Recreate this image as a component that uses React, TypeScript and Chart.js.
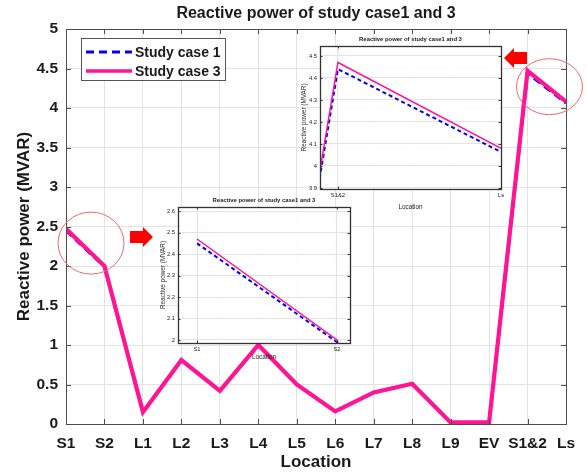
import React, { useEffect, useRef } from 'react';
import { Chart, registerables } from 'chart.js';

Chart.register(...registerables);

// ---------- data ----------
const locations = ['S1', 'S2', 'L1', 'L2', 'L3', 'L4', 'L5', 'L6', 'L7', 'L8', 'L9', 'EV', 'S1&2', 'Ls'];
const studyCase1 = [2.45, 1.99, 0.15, 0.81, 0.42, 1.0, 0.5, 0.16, 0.4, 0.51, 0.02, 0.02, 4.44, 4.063];
const studyCase3 = [2.47, 2.0, 0.15, 0.81, 0.42, 1.0, 0.5, 0.16, 0.4, 0.51, 0.02, 0.02, 4.47, 4.08];
const mainXTicks = [0, 1, 2, 3, 4, 5, 6, 7, 8, 9, 10, 11, 12, 13];
const mainYTicks = [0, 0.5, 1, 1.5, 2, 2.5, 3, 3.5, 4, 4.5, 5];
const inset1XTicks = [0, 1];
const inset1YTicks = [2, 2.1, 2.2, 2.3, 2.4, 2.5, 2.6];
const inset2XTicks = [12, 13];
const inset2YTicks = [3.9, 4, 4.1, 4.2, 4.3, 4.4, 4.5];
const chartTitle = 'Reactive power of study case1 and 3';
const xTitle = 'Location';
const yTitle = 'Reactive power (MVAR)';
const legendLabels = ['Study case 1', 'Study case 3'];

// ---------- styles ----------
const FAMILY = '"Liberation Sans", Arial, Helvetica, sans-serif';
const PINK = '#ff1493';
const BLUE = '#0000ff';
const GRID = '#e3e3e3';
const AXIS = '#4d4d4d';
const TEXT = '#1a1a1a';

type Spec = {
  left: number; top: number; width: number; height: number;
  padTop: number; padRight: number; yWidth: number; xHeight: number;
  xMin: number; xMax: number; yMin: number; yMax: number;
  xTicks: number[]; yTicks: number[];
  tickSize: number; tickWeight: string; xTickPad: number; yTickPad: number;
  axisTitleSize: number; axisTitleWeight: string; xTitlePad: number; yTitlePad: number;
  titleSize: number; titleWeight: string; titleY: number;
  w1: number; w3: number; dash: number[]; tickLen: number; areaFill: string;
  boxColor: string; boxWidth: number;
  main: boolean;
};

const mainSpec: Spec = {
  left: 0, top: 0, width: 587, height: 476,
  padTop: 29, padRight: 21, yWidth: 66, xHeight: 52,
  xMin: 0, xMax: 13, yMin: 0, yMax: 5,
  xTicks: mainXTicks, yTicks: mainYTicks,
  tickSize: 15.5, tickWeight: 'bold', xTickPad: 10, yTickPad: 8,
  axisTitleSize: 17, axisTitleWeight: 'bold', xTitlePad: 3, yTitlePad: 14,
  titleSize: 16, titleWeight: 'bold', titleY: 14,
  w1: 3, w3: 4.2, dash: [8, 5], tickLen: 5, areaFill: '#ffffff',
  boxColor: AXIS, boxWidth: 1,
  main: true,
};

const inset1Spec: Spec = {
  left: 150, top: 193, width: 210, height: 172,
  padTop: 14, padRight: 10, yWidth: 28, xHeight: 22,
  xMin: -0.136, xMax: 1.093, yMin: 1.986, yMax: 2.619,
  xTicks: inset1XTicks, yTicks: inset1YTicks,
  tickSize: 5.8, tickWeight: 'normal', xTickPad: 2.5, yTickPad: 3,
  axisTitleSize: 6.4, axisTitleWeight: 'normal', xTitlePad: 4, yTitlePad: 9,
  titleSize: 5.9, titleWeight: 'bold', titleY: 7,
  w1: 2, w3: 1.5, dash: [4, 3], tickLen: 2.5, areaFill: 'rgba(255,255,255,0.88)',
  boxColor: '#333333', boxWidth: 1.3,
  main: false,
};

const inset2Spec: Spec = {
  left: 295, top: 30, width: 215, height: 185,
  padTop: 16, padRight: 9, yWidth: 25, xHeight: 26,
  xMin: 11.89, xMax: 13, yMin: 3.895, yMax: 4.545,
  xTicks: inset2XTicks, yTicks: inset2YTicks,
  tickSize: 5.8, tickWeight: 'normal', xTickPad: 2.5, yTickPad: 3,
  axisTitleSize: 6.4, axisTitleWeight: 'normal', xTitlePad: 4, yTitlePad: 5,
  titleSize: 5.9, titleWeight: 'bold', titleY: 9,
  w1: 2, w3: 1.5, dash: [4, 3], tickLen: 2.5, areaFill: 'rgba(255,255,255,0.88)',
  boxColor: '#333333', boxWidth: 1.3,
  main: false,
};

const fmt = (v: number) => (Number.isInteger(v) ? String(v) : v.toFixed(1));

function makeFramePlugin(s: Spec) {
  return {
    id: 'frame',
    beforeDraw(chart: any) {
      const { ctx, chartArea: a } = chart;
      ctx.save();
      if (s.main) {
        ctx.fillStyle = '#ffffff';
        ctx.fillRect(0, 0, chart.width, chart.height);
      }
      ctx.fillStyle = s.areaFill;
      ctx.fillRect(a.left, a.top, a.right - a.left, a.bottom - a.top);
      ctx.restore();
    },
    afterDatasetsDraw(chart: any) {
      const { ctx, chartArea: a, scales } = chart;
      ctx.save();
      ctx.strokeStyle = s.boxColor;
      ctx.lineWidth = 1;
      ctx.beginPath();
      for (const v of s.xTicks) {
        const px = Math.round(scales.x.getPixelForValue(v)) + 0.5;
        ctx.moveTo(px, a.bottom); ctx.lineTo(px, a.bottom - s.tickLen);
        ctx.moveTo(px, a.top); ctx.lineTo(px, a.top + s.tickLen);
      }
      for (const v of s.yTicks) {
        const py = Math.round(scales.y.getPixelForValue(v)) + 0.5;
        ctx.moveTo(a.left, py); ctx.lineTo(a.left + s.tickLen, py);
        ctx.moveTo(a.right, py); ctx.lineTo(a.right - s.tickLen, py);
      }
      ctx.stroke();
      ctx.lineWidth = s.boxWidth;
      ctx.strokeRect(Math.round(a.left) + 0.5, Math.round(a.top) + 0.5,
        Math.round(a.right - a.left), Math.round(a.bottom - a.top));
      ctx.restore();
    },
    afterDraw(chart: any) {
      const { ctx, chartArea: a, scales } = chart;
      ctx.save();
      // chart title
      ctx.fillStyle = TEXT;
      ctx.font = `${s.titleWeight} ${s.titleSize}px ${FAMILY}`;
      ctx.textAlign = 'center';
      ctx.textBaseline = 'middle';
      ctx.fillText(chartTitle, (a.left + a.right) / 2, s.titleY);

      if (s.main) {
        // legend
        const bx = a.left + 15, by = a.top + 9, bw = 144, bh = 42;
        ctx.fillStyle = '#ffffff';
        ctx.fillRect(bx, by, bw, bh);
        ctx.strokeStyle = '#555555';
        ctx.lineWidth = 1;
        ctx.strokeRect(bx + 0.5, by + 0.5, bw, bh);
        const rows = [
          { label: legendLabels[0], color: BLUE, dash: [8, 5], w: 3 },
          { label: legendLabels[1], color: PINK, dash: [], w: 3.5 },
        ];
        rows.forEach((r, i) => {
          const ly = by + 14 + i * 19;
          ctx.beginPath();
          ctx.setLineDash(r.dash);
          ctx.strokeStyle = r.color;
          ctx.lineWidth = r.w;
          ctx.moveTo(bx + 5, ly);
          ctx.lineTo(bx + 51, ly);
          ctx.stroke();
          ctx.setLineDash([]);
          ctx.fillStyle = TEXT;
          ctx.font = `bold 14px ${FAMILY}`;
          ctx.textAlign = 'left';
          ctx.textBaseline = 'middle';
          ctx.fillText(r.label, bx + 54, ly + 1);
        });

        // zoom circles
        ctx.strokeStyle = '#f06a6a';
        ctx.lineWidth = 1;
        const circles = [
          { xv: 0.65, yv: 2.29, rx: 33, ry: 31 },
          { xv: 12.57, yv: 4.27, rx: 33, ry: 28 },
        ];
        circles.forEach((c) => {
          ctx.beginPath();
          ctx.ellipse(scales.x.getPixelForValue(c.xv), scales.y.getPixelForValue(c.yv), c.rx, c.ry, 0, 0, Math.PI * 2);
          ctx.stroke();
        });

        // arrows
        ctx.fillStyle = '#ff0000';
        const arrow = (x0: number, x1: number, cy: number, dir: number) => {
          const len = Math.abs(x1 - x0);
          const head = 10;
          const sx = dir > 0 ? x0 : x1;
          ctx.beginPath();
          if (dir > 0) {
            ctx.moveTo(sx, cy - 6); ctx.lineTo(sx + len - head, cy - 6); ctx.lineTo(sx + len - head, cy - 10);
            ctx.lineTo(sx + len, cy); ctx.lineTo(sx + len - head, cy + 10); ctx.lineTo(sx + len - head, cy + 6);
            ctx.lineTo(sx, cy + 6);
          } else {
            ctx.moveTo(sx, cy - 6); ctx.lineTo(sx - len + head, cy - 6); ctx.lineTo(sx - len + head, cy - 10);
            ctx.lineTo(sx - len, cy); ctx.lineTo(sx - len + head, cy + 10); ctx.lineTo(sx - len + head, cy + 6);
            ctx.lineTo(sx, cy + 6);
          }
          ctx.closePath();
          ctx.fill();
        };
        arrow(130, 153, 237, 1);
        arrow(504, 527, 58, -1);
      }
      ctx.restore();
    },
  };
}

function makeConfig(s: Spec): any {
  const pts1 = locations.map((_, i) => ({ x: i, y: studyCase1[i] }));
  const pts3 = locations.map((_, i) => ({ x: i, y: studyCase3[i] }));
  const tickFont = { family: FAMILY, size: s.tickSize, weight: s.tickWeight };
  const titleFont = { family: FAMILY, size: s.axisTitleSize, weight: s.axisTitleWeight };
  return {
    type: 'line',
    data: {
      datasets: [
        { label: legendLabels[1], data: pts3, borderColor: PINK, backgroundColor: PINK, borderWidth: s.w3, pointRadius: 0, tension: 0, order: 0, fill: false },
        { label: legendLabels[0], data: pts1, borderColor: BLUE, backgroundColor: BLUE, borderWidth: s.w1, borderDash: s.dash, pointRadius: 0, tension: 0, order: 1, fill: false },
      ],
    },
    options: {
      animation: false,
      responsive: false,
      devicePixelRatio: 1,
      events: [],
      layout: { padding: { top: s.padTop, right: s.padRight, left: 0, bottom: 0 } },
      plugins: { legend: { display: false }, tooltip: { enabled: false }, title: { display: false } },
      scales: {
        x: {
          type: 'linear',
          min: s.xMin,
          max: s.xMax,
          afterFit: (sc: any) => { sc.height = s.xHeight; },
          afterBuildTicks: (sc: any) => { sc.ticks = s.xTicks.map((v) => ({ value: v })); },
          ticks: {
            callback: (v: any) => locations[Math.round(Number(v))] ?? '',
            font: tickFont, color: TEXT, padding: s.xTickPad,
            autoSkip: false, maxRotation: 0, minRotation: 0,
          },
          grid: { color: GRID, drawTicks: false, lineWidth: 1 },
          border: { display: true, color: s.boxColor, width: 1 },
          title: { display: true, text: xTitle, font: titleFont, color: TEXT, padding: { top: 0, bottom: s.xTitlePad } },
        },
        y: {
          type: 'linear',
          min: s.yMin,
          max: s.yMax,
          afterFit: (sc: any) => { sc.width = s.yWidth; },
          afterBuildTicks: (sc: any) => { sc.ticks = s.yTicks.map((v) => ({ value: v })); },
          ticks: {
            callback: (v: any) => fmt(Number(v)),
            font: tickFont, color: TEXT, padding: s.yTickPad, autoSkip: false,
          },
          grid: { color: GRID, drawTicks: false, lineWidth: 1 },
          border: { display: true, color: s.boxColor, width: 1 },
          title: { display: true, text: yTitle, font: titleFont, color: TEXT, padding: { top: s.yTitlePad, bottom: 0 } },
        },
      },
    },
    plugins: [makeFramePlugin(s)],
  };
}

function ChartCanvas({ spec }: { spec: Spec }) {
  const ref = useRef<HTMLCanvasElement | null>(null);
  useEffect(() => {
    if (!ref.current) return;
    const chart = new Chart(ref.current, makeConfig(spec));
    return () => chart.destroy();
  }, [spec]);
  return (
    <canvas
      ref={ref}
      width={spec.width}
      height={spec.height}
      style={{ position: 'absolute', left: spec.left, top: spec.top, width: spec.width, height: spec.height }}
    />
  );
}

export default function App() {
  return (
    <div style={{ position: 'absolute', left: 0, top: 0, width: 587, height: 476, background: '#ffffff', overflow: 'hidden' }}>
      <ChartCanvas spec={mainSpec} />
      <ChartCanvas spec={inset1Spec} />
      <ChartCanvas spec={inset2Spec} />
    </div>
  );
}
